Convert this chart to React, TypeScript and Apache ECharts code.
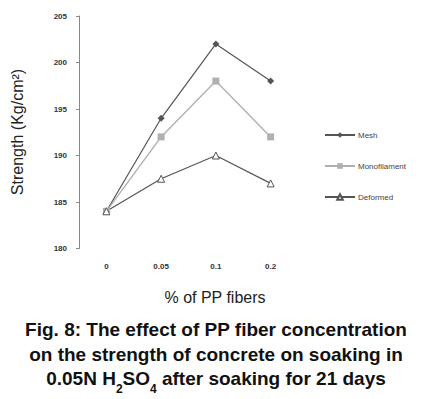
import React, { useEffect, useRef } from "react";
import * as echarts from "echarts";

const categories = ["0", "0.05", "0.1", "0.2"];
const meshValues = [184, 194, 202, 198];
const monoValues = [184, 192, 198, 192];
const deformedValues = [184, 187.5, 190, 187];
const yMin = 180;
const yMax = 205;
const yStep = 5;

const captionLines = [
  "Fig. 8: The effect of PP fiber concentration",
  "on the strength of concrete on soaking in",
];
const captionLast = [
  { t: "0.05N H", sub: false },
  { t: "2", sub: true },
  { t: "SO", sub: false },
  { t: "4", sub: true },
  { t: " after soaking for 21 days", sub: false },
];

export default function App() {
  const ref = useRef<HTMLDivElement>(null);
  useEffect(() => {
    if (!ref.current) return;
    const chart = echarts.init(ref.current, null, { renderer: "svg" });
    const font = "'Liberation Sans', Arial, sans-serif";
    const mainSize = 19;
    const subSize = 12;
    const ctx = document.createElement("canvas").getContext("2d")!;
    const measure = (t: string, size: number) => {
      ctx.font = `bold ${size}px ${font}`;
      return ctx.measureText(t).width;
    };
    const widths = captionLast.map((s) => measure(s.t, s.sub ? subSize : mainSize));
    const total = widths.reduce((a, b) => a + b, 0);
    const cx = 216;
    let xCursor = cx - total / 2;
    const lastLineEls = captionLast.map((s, i) => {
      const el = {
        type: "text",
        silent: true,
        style: {
          text: s.t,
          x: xCursor,
          y: s.sub ? 389 : 378.5,
          align: "left",
          verticalAlign: "middle",
          fontSize: s.sub ? subSize : mainSize,
          fontWeight: "bold",
          fill: "#111",
          fontFamily: font,
        },
      };
      xCursor += widths[i];
      return el;
    });
    chart.setOption({
      animation: false,
      backgroundColor: "#ffffff",
      textStyle: { fontFamily: font },
      grid: { left: 79, top: 16, width: 219, height: 232.5, containLabel: false },
      legend: {
        orient: "vertical",
        left: 319,
        top: 126,
        itemWidth: 30,
        itemHeight: 7,
        itemGap: 23,
        textStyle: { fontSize: 8, color: "#444", fontFamily: font, padding: [0, 0, 0, -2] },
        data: ["Mesh", "Monofilament", "Deformed"],
      },
      xAxis: {
        type: "category",
        data: categories,
        boundaryGap: true,
        axisLine: { show: false },
        axisTick: { show: false },
        axisLabel: { fontSize: 8, color: "#333", margin: 14, fontWeight: "bold" },
        splitLine: { show: false },
      },
      yAxis: {
        type: "value",
        min: yMin,
        max: yMax,
        interval: yStep,
        axisLine: { show: true, lineStyle: { color: "#888", width: 1 } },
        axisTick: { show: true, length: 3, lineStyle: { color: "#888" } },
        axisLabel: { fontSize: 8, color: "#333", margin: 12, fontWeight: "bold" },
        splitLine: { show: false },
      },
      series: [
        {
          name: "Mesh",
          type: "line",
          data: meshValues,
          symbol: "diamond",
          symbolSize: 7,
          lineStyle: { color: "#555", width: 1.2 },
          itemStyle: { color: "#555" },
        },
        {
          name: "Monofilament",
          type: "line",
          data: monoValues,
          symbol: "rect",
          symbolSize: 7,
          lineStyle: { color: "#b0b0b0", width: 1.4 },
          itemStyle: { color: "#b0b0b0" },
        },
        {
          name: "Deformed",
          type: "line",
          data: deformedValues,
          symbol: "triangle",
          symbolSize: 7,
          lineStyle: { color: "#555", width: 1.2 },
          itemStyle: { color: "#fff", borderColor: "#555", borderWidth: 1 },
        },
      ],
      graphic: [
        {
          type: "text",
          x: 17,
          y: 132,
          rotation: Math.PI / 2,
          silent: true,
          style: {
            text: "Strength (Kg/cm²)",
            x: 0,
            y: 0,
            fontSize: 16,
            fill: "#222",
            fontFamily: font,
            align: "center",
            verticalAlign: "middle",
          },
        },
        {
          type: "text",
          silent: true,
          style: {
            text: "% of PP fibers",
            x: 215,
            y: 297.5,
            align: "center",
            verticalAlign: "middle",
            fontSize: 16,
            fill: "#222",
            fontFamily: font,
          },
        },
        ...captionLines.map((t, i) => ({
          type: "text",
          silent: true,
          style: {
            text: t,
            x: cx,
            y: 329.5 + i * 24.5,
            align: "center",
            verticalAlign: "middle",
            fontSize: mainSize,
            fontWeight: "bold",
            fill: "#111",
            fontFamily: font,
          },
        })),
        ...lastLineEls,
      ],
    });
    return () => chart.dispose();
  }, []);
  return (
    <div
      ref={ref}
      style={{ position: "absolute", left: 0, top: 0, width: 438, height: 399 }}
    />
  );
}
